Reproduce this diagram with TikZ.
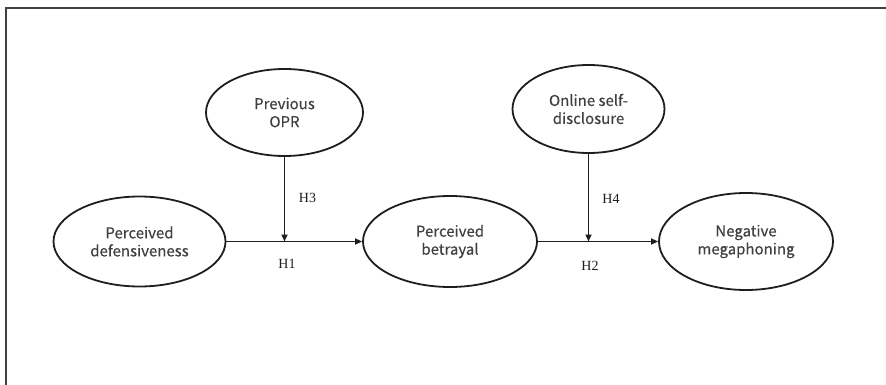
\documentclass[tikz,border=0pt]{standalone}
\usepackage{fontspec}
\newfontfamily\varfont{Noto Sans CJK KR}[BoldFont={Noto Sans CJK KR},BoldFeatures={FakeBold=0.35}]
\newfontfamily\hfont{Liberation Serif}
\usetikzlibrary{shapes.geometric,arrows.meta}
\definecolor{ink}{HTML}{1E1E1E}
\begin{document}
\begin{tikzpicture}[x=1pt,y=-1pt,
  var/.style={ellipse,draw=ink,line width=1.8pt,inner sep=0pt,align=center,
    text=ink!85,font=\varfont\bfseries\fontsize{15}{18}\selectfont},
  conn/.style={draw=ink,line width=1.6pt,-{Triangle[length=7pt,width=6pt]}},
  hlab/.style={font=\hfont\fontsize{14}{14}\selectfont,text=ink,inner sep=0pt}]
\useasboundingbox (0,0) rectangle (886,385);
\draw[ink!85,line width=2pt] (6,385) -- (6,8) -- (886,8);
\node[var,minimum width=172pt,minimum height=90pt] (def) at (139.5,241.5) {Perceived\\defensiveness};
\node[var,minimum width=174pt,minimum height=91pt] (bet) at (450,241.5) {Perceived\\betrayal};
\node[var,minimum width=174pt,minimum height=97pt] (neg) at (746,241.5) {Negative\\megaphoning};
\node[var,minimum width=157pt,minimum height=87pt] (prev) at (284.5,112.5) {Previous\\OPR};
\node[var,minimum width=152pt,minimum height=88pt] (onl) at (588.5,109) {Online self-\\disclosure};
\coordinate (j1) at (prev.south |- def.east);
\coordinate (j2) at (onl.south |- bet.east);
\draw[conn] (def.east) -- (bet.west);
\draw[conn] (bet.east) -- (neg.west);
\draw[conn] (prev.south) -- (j1);
\draw[conn] (onl.south) -- (j2);
\node[hlab] (h3) at (307.5,197.5) {H3};
\node[hlab] (h1) at (287,263.5) {H1};
\node[hlab] (h4) at (611,199) {H4};
\node[hlab] (h2) at (590,265.5) {H2};
\end{tikzpicture}
\end{document}
